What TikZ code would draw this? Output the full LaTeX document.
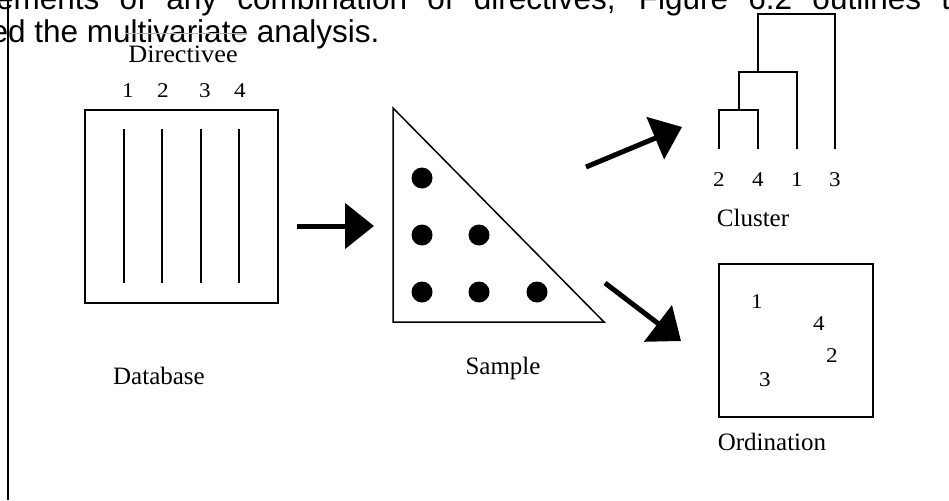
\documentclass[tikz,border=0pt]{standalone}
\usepackage{fontspec}
\setmainfont{Liberation Serif}
\newfontfamily\arialf{Liberation Sans}
\usetikzlibrary{arrows.meta}
\newcommand\sxt[1]{\scalebox{1.1}[1]{#1}}
\tikzset{
  lbl/.style={inner sep=0pt, anchor=base, font=\fontsize{21}{25}\selectfont},
  word/.style={inner sep=0pt, anchor=base, font=\fontsize{25}{29}\selectfont},
  body/.style={inner sep=0pt, anchor=base west, font=\arialf\fontsize{31.5}{36}\selectfont},
  fat/.style={line width=5pt, -{Triangle[length=29pt,width=45pt]}},
  frame/.style={line width=1.8pt},
  col/.style={line width=2.4pt},
  dend/.style={line width=2pt},
  dot/.style={circle, fill=black, minimum size=21pt, inner sep=0pt}
}
\begin{document}
\begin{tikzpicture}[x=1pt,y=-1pt]
\useasboundingbox (0,0) rectangle (949,500);
\begin{scope}
\clip (0,0) rectangle (949,500);
% page text behind
\node[body] (t1) at (-4,10) {\makebox[954pt][s]{ements of any combination of directives, Figure 6.2 outlines t}};
\node[body] (t2) at (-9.5,43) {ed the multivariate analysis.};
\draw[gray!60, line width=0.8pt] (125,33) -- (246,33);
\draw[line width=2pt] (8,0) -- (8,500);
\end{scope}
% Database
\node[word] (dir) at (183,63) {\scalebox{1.05}[1]{Directivee}};
\node[lbl] (d1) at (128,98) {\sxt{1}};
\node[lbl] (d2) at (163,98) {\sxt{2}};
\node[lbl] (d3) at (205,98) {\sxt{3}};
\node[lbl] (d4) at (240,98) {\sxt{4}};
\draw[frame] (85,110) rectangle (278,303);
\foreach \x in {124,162,201,239} \draw[col] (\x,129) -- (\x,283);
\node[word] (db) at (159,384) {Database};
% arrow 1
\coordinate (a1s) at (297,226);
\coordinate (a1e) at (374,226);
\draw[fat] (a1s) -- (a1e);
% Sample triangle
\draw[line width=1.5pt, line join=miter] (393,108) -- (393,322) -- (604,322) -- cycle;
\node[dot] (s1) at (422,178) {};
\node[dot] (s2) at (422,235) {};
\node[dot] (s3) at (479,235) {};
\node[dot] (s4) at (422,292) {};
\node[dot] (s5) at (479,292) {};
\node[dot] (s6) at (537,292) {};
\node[word] (smp) at (503,374) {Sample};
% arrows out
\coordinate (a2s) at (586,167);
\coordinate (a2e) at (682,127);
\draw[fat] (a2s) -- (a2e);
\coordinate (a3s) at (605,283);
\coordinate (a3e) at (681,341);
\draw[fat] (a3s) -- (a3e);
% Cluster dendrogram
\draw[dend] (758,72) -- (758,14) -- (835,14) -- (835,149);
\draw[dend] (739,110) -- (739,72) -- (797,72) -- (797,149);
\draw[dend] (719,149) -- (719,110) -- (758,110) -- (758,149);
\node[lbl] (c2) at (719,186) {\sxt{2}};
\node[lbl] (c4) at (758,186) {\sxt{4}};
\node[lbl] (c1) at (797,186) {\sxt{1}};
\node[lbl] (c3) at (835,186) {\sxt{3}};
\node[word] (cl) at (753,226) {Cluster};
% Ordination
\draw[frame] (719,264) rectangle (873,417);
\node[lbl] (o1) at (757,308) {\sxt{1}};
\node[lbl] (o4) at (819,330) {\sxt{4}};
\node[lbl] (o2) at (832,362) {\sxt{2}};
\node[lbl] (o3) at (765,386) {\sxt{3}};
\node[word] (ord) at (772,450) {Ordination};
\end{tikzpicture}
\end{document}
